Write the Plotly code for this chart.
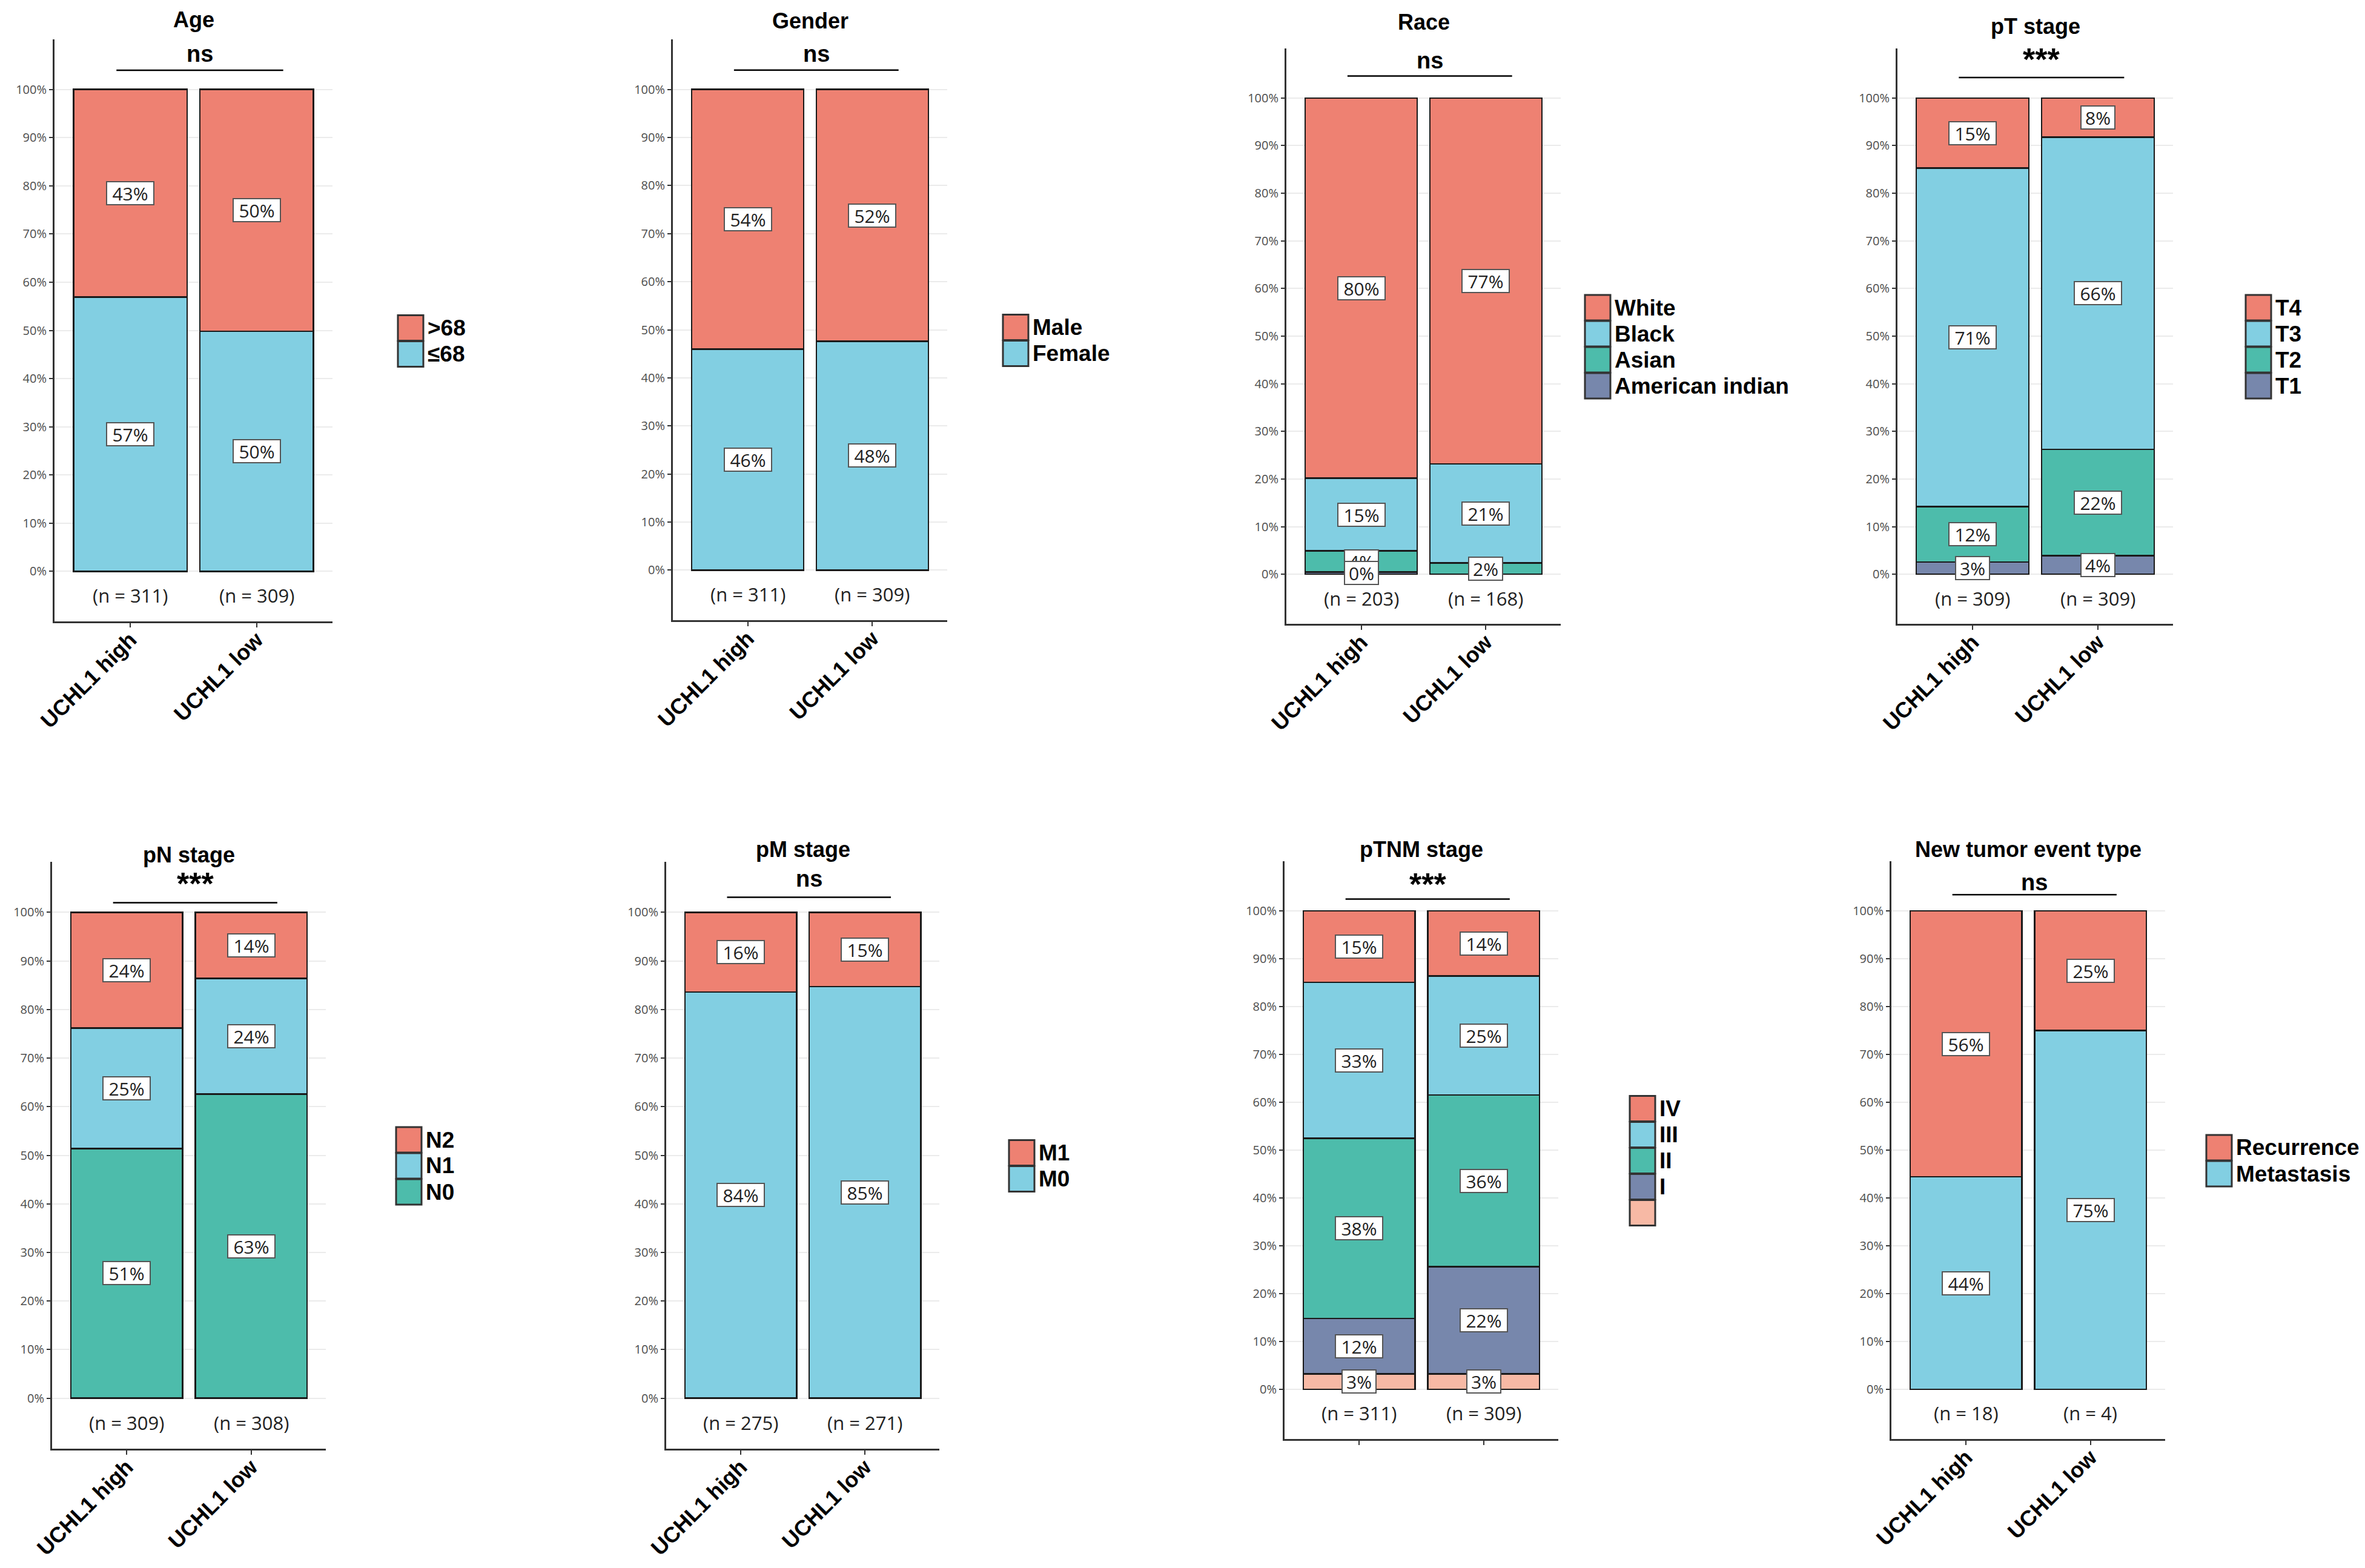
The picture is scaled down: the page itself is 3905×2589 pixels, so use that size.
import plotly.graph_objects as go

# Taille de la fenêtre (px) ; la page ajoute une marge de 8 px autour du graphique
W, H = 3905, 2589
OFF = 8

# ---- Données ----
groups = ["UCHL1 high", "UCHL1 low"]

age_levels = ["≤68", ">68"]
age_high = [56.9, 43.1]
age_low = [49.8, 50.2]
age_n = [311, 309]

gender_levels = ["Female", "Male"]
gender_high = [46.0, 54.0]
gender_low = [47.6, 52.4]
gender_n = [311, 309]

race_levels = ["American indian", "Asian", "Black", "White"]
race_high = [0.5, 4.4, 15.3, 79.8]
race_low = [0.0, 2.4, 20.8, 76.8]
race_n = [203, 168]

pt_levels = ["T1", "T2", "T3", "T4"]
pt_high = [2.6, 11.6, 71.1, 14.7]
pt_low = [3.9, 22.3, 65.6, 8.2]
pt_n = [309, 309]

pn_levels = ["N0", "N1", "N2"]
pn_high = [51.4, 24.8, 23.8]
pn_low = [62.6, 23.8, 13.6]
pn_n = [309, 308]

pm_levels = ["M0", "M1"]
pm_high = [83.6, 16.4]
pm_low = [84.7, 15.3]
pm_n = [275, 271]

ptnm_levels = ["", "I", "II", "III", "IV"]
ptnm_high = [3.2, 11.6, 37.7, 32.6, 14.9]
ptnm_low = [3.2, 22.4, 35.9, 24.9, 13.6]
ptnm_n = [311, 309]

nte_levels = ["Metastasis", "Recurrence"]
nte_high = [44.4, 55.6]
nte_low = [75.0, 25.0]
nte_n = [18, 4]

titles = ["Age", "Gender", "Race", "pT stage", "pN stage", "pM stage", "pTNM stage", "New tumor event type"]
signif = ["ns", "ns", "ns", "***", "***", "ns", "***", "ns"]

y_ticks = list(range(0, 101, 10))

# couleurs du haut de la pile vers le bas
palette = ["#EE8172", "#82CFE2", "#4DBCAB", "#7787AC", "#F7B9A5"]

panels = [
    (age_levels, age_high, age_low, age_n),
    (gender_levels, gender_high, gender_low, gender_n),
    (race_levels, race_high, race_low, race_n),
    (pt_levels, pt_high, pt_low, pt_n),
    (pn_levels, pn_high, pn_low, pn_n),
    (pm_levels, pm_high, pm_low, pm_n),
    (ptnm_levels, ptnm_high, ptnm_low, ptnm_n),
    (nte_levels, nte_high, nte_low, nte_n),
]

# ---- Mise en page (pixels de la fenêtre) ----
boxes = [(90, 549, 65, 1026), (1111, 1564, 65, 1024), (2124, 2577, 80, 1030), (3133, 3588, 80, 1030),
         (86, 538, 1423, 2392), (1100, 1551, 1423, 2392), (2121, 2573, 1422, 2376), (3123, 3575, 1422, 2376)]
title_y = [33, 35, 36, 44, 1412, 1402, 1402, 1402]
sig_line = [104, 104, 104.6, 104.3, 102, 103.1, 102.5, 103.4]
sig_text = [107.4, 107.4, 107.9, 108.1, 105.9, 106.9, 105.6, 106.0]
legend_x = [657, 1656, 2617, 3708, 654, 1666, 2691, 3643]
show_xlabels = [True, True, True, True, True, True, False, True]

BOLD = "Liberation Sans"
REG = "Open Sans"

FW, FH = W - 2 * OFF, H - 2 * OFF


def px(x):
    return (x - OFF) / FW


def py(y):
    return 1 - (y - OFF) / FH


fig = go.Figure()
annotations = []
shapes = []
layout_axes = {}

for i, (levels, high, low, n) in enumerate(panels):
    k = i + 1
    xa = "x" if k == 1 else f"x{k}"
    ya = "y" if k == 1 else f"y{k}"
    x0, x1, y0, y1 = boxes[i]
    colors = palette[:len(levels)][::-1]

    # barres empilées
    for j, lev in enumerate(levels):
        vals = [high[j] if high[j] > 0 else None, low[j] if low[j] > 0 else None]
        fig.add_trace(go.Bar(
            x=groups, y=vals, name=lev, width=0.9,
            xaxis=xa, yaxis=ya, showlegend=False,
            marker=dict(color=colors[j], line=dict(color="#1a1a1a", width=2.5)),
        ))

    # étiquettes de pourcentage (milieu de chaque segment), du haut vers le bas
    for g, series in enumerate([high, low]):
        mids = []
        cum = 0
        for v in series:
            mids.append(cum + v / 2)
            cum += v
        for v, m in list(zip(series, mids))[::-1]:
            if v > 0:
                txt = f"{round(v)}%"
                annotations.append(dict(
                    x=groups[g], y=m, xref=xa, yref=ya, text=txt,
                    showarrow=False, bgcolor="white", bordercolor="#555", borderwidth=2, borderpad=2,
                    width=72 if len(txt) > 2 else 50, height=32,
                    font=dict(family=REG, size=30, color="#222")))
        annotations.append(dict(
            x=groups[g], y=-5, xref=xa, yref=ya, text=f"(n = {n[g]})", showarrow=False,
            font=dict(family=REG, size=31, color="#222")))

    # titre
    annotations.append(dict(
        x=0.5, xref=f"{xa} domain", y=py(title_y[i]), yref="paper", yanchor="middle",
        text=titles[i], showarrow=False, font=dict(family=BOLD, size=36, color="black", weight="bold")))

    # significativité
    shapes.append(dict(type="line", xref=xa, yref=ya, x0=-0.11, x1=1.21,
                       y0=sig_line[i], y1=sig_line[i], line=dict(color="black", width=2.5)))
    star = signif[i].startswith("*")
    annotations.append(dict(
        x=0.55, xref=xa, y=sig_text[i], yref=ya, yanchor="middle",
        text=signif[i], showarrow=False,
        font=dict(family=BOLD, size=52 if star else 38, color="black", weight="bold")))

    # légende
    item_h = 43
    n_items = len(levels)
    centre = (y0 + y1) / 2 + 18
    top = centre - n_items * item_h / 2
    for r, lev in enumerate(levels[::-1]):
        sy0 = top + r * item_h
        shapes.append(dict(type="rect", xref="paper", yref="paper",
                           x0=px(legend_x[i]), x1=px(legend_x[i] + 42),
                           y0=py(sy0), y1=py(sy0 + 42),
                           fillcolor=palette[r], line=dict(color="#333", width=3)))
        if lev:
            annotations.append(dict(
                x=px(legend_x[i] + 47), y=py(sy0 + 21), xref="paper", yref="paper",
                xanchor="left", yanchor="middle", text=lev, showarrow=False,
                font=dict(family=BOLD, size=37, color="black", weight="bold")))

    layout_axes["xaxis" if k == 1 else f"xaxis{k}"] = dict(
        domain=[px(x0), px(x1)], anchor=ya, type="category", range=[-0.6, 1.6], automargin=False,
        showline=True, linecolor="#333", linewidth=3, ticks="outside", ticklen=7, tickwidth=2,
        tickcolor="#333", tickangle=-45, showticklabels=show_xlabels[i], showgrid=False, zeroline=False,
        ticklabelstandoff=-15,
        tickfont=dict(family=BOLD, size=36, color="black", weight="bold"))
    layout_axes["yaxis" if k == 1 else f"yaxis{k}"] = dict(
        domain=[py(y1), py(y0)], anchor=xa, range=[-10.4, 110.4], automargin=False,
        tickvals=y_ticks, ticktext=[f"{v}%" for v in y_ticks],
        showline=True, linecolor="#333", linewidth=3, ticks="outside", ticklen=6, tickwidth=2,
        tickcolor="#333", showgrid=True, gridcolor="#EBEBEB", gridwidth=2, zeroline=False,
        tickfont=dict(family=REG, size=20, color="#4D4D4D"))

fig.update_layout(
    width=FW, height=FH, margin=dict(l=0, r=0, t=0, b=0),
    barmode="stack", plot_bgcolor="white", paper_bgcolor="white",
    showlegend=False, annotations=annotations, shapes=shapes,
    **layout_axes,
)

fig.write_html("out.html")
